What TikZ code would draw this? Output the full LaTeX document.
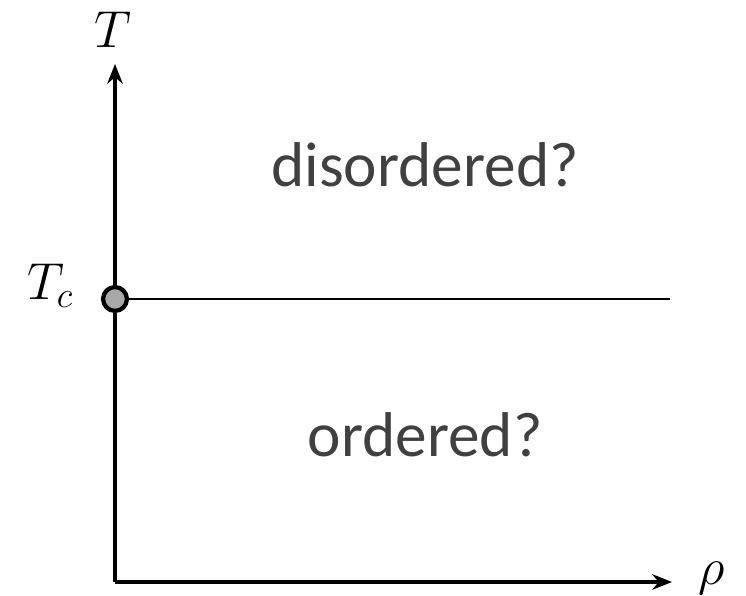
\RequirePackage{fix-cm}
\documentclass[tikz,border=0pt]{standalone}
\usepackage{fontspec}
\setsansfont{Carlito}
\usetikzlibrary{arrows.meta,positioning}
\definecolor{phasegray}{HTML}{404040}
\definecolor{dotgray}{HTML}{A8A8A8}

\begin{document}
\begin{tikzpicture}[>={Stealth[length=14pt,width=11pt]}, x=0.025cm, y=-0.025cm,
    axis/.style={line width=2.2pt},
    phase/.style={font=\sffamily\fontsize{45}{50}\selectfont, text=phasegray},
    lbl/.style={font=\fontsize{37}{40}\selectfont}]
  \useasboundingbox (0,0) rectangle (746,596);
  \coordinate (origin) at (115,582);
  \coordinate (ytop) at (115,64);
  \coordinate (xend) at (672,582);
  \coordinate (lineend) at (670,299);
  \node[circle, draw, fill=dotgray, line width=3pt, minimum size=17pt, inner sep=0pt] (tc) at (115,299) {};
  \draw[axis] (origin) -- (tc);
  \draw[axis,->] (tc) -- (ytop);
  \draw[axis,->] (origin) -- (xend);
  \draw[line width=1.6pt] (tc) -- (lineend);
  \node[lbl] (tlabel) at (113,30) {\(T\)};
  \node[lbl] (rholabel) at (712,578) {\(\rho\)};
  \node[lbl] (tclabel) at (50,286) {\(T_c\)};
  \node[phase] (dis) at (425,165) {disordered?};
  \node[phase] (ord) at (425,435) {ordered?};
\end{tikzpicture}
\end{document}
